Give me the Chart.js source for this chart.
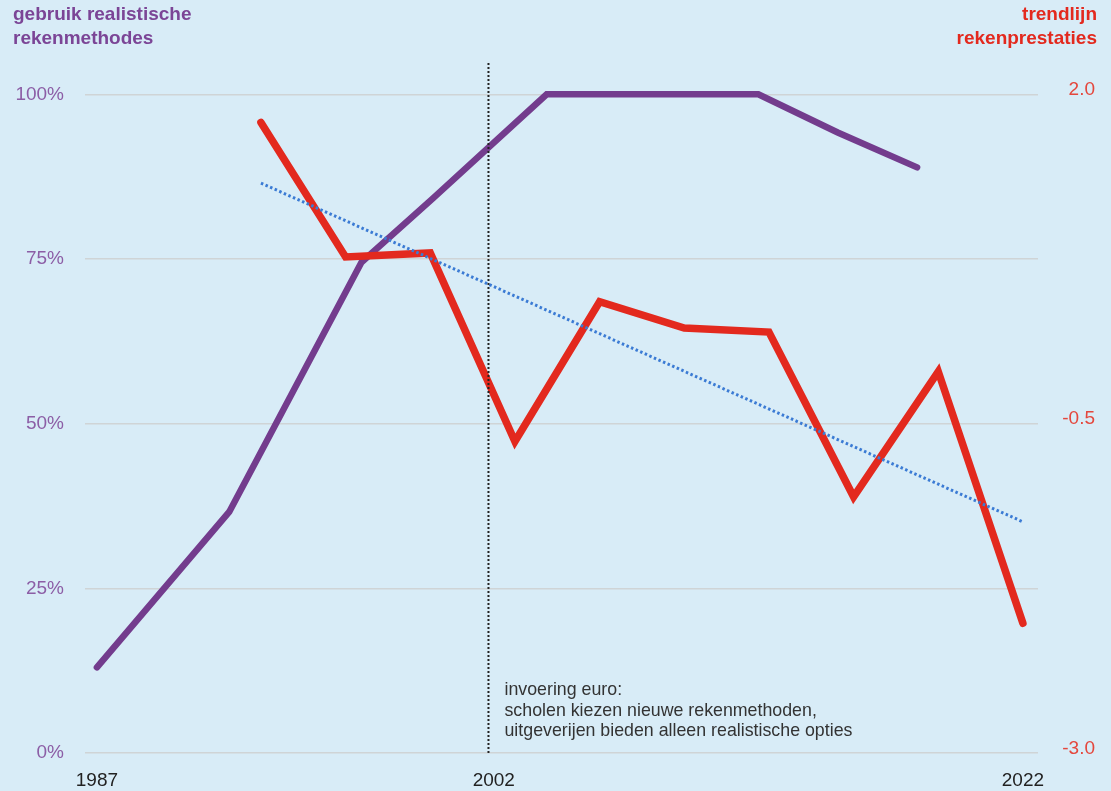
<!DOCTYPE html>
<html>
<head>
<meta charset="utf-8">
<script src="https://cdn.jsdelivr.net/npm/chart.js@4/dist/chart.umd.min.js"></script>
<style>
  html, body { margin: 0; padding: 0; background: #d8ecf7; }
  #wrap { width: 1111px; height: 791px; }
</style>
</head>
<body>
<div id="wrap"><canvas id="rekenChart" width="1111" height="791"></canvas></div>
<script>
// gebruik realistische rekenmethodes (%)
const methodYears = [1987, 1992, 1997, 1999.7, 2004, 2012, 2015, 2018];
const methodShare = [13, 36.6, 74.5, 84.2, 100, 100, 94.2, 88.9];

// rekenprestaties (rechter as)
const scoreYears = [1993.2, 1996.4, 1999.6, 2002.8, 2006, 2009.2, 2012.4, 2015.6, 2018.8, 2022];
const scores = [1.75, 0.73, 0.76, -0.67, 0.39, 0.19, 0.16, -1.09, -0.14, -2.05];

// trendlijn
const trendYears = [1993.2, 2022];
const trendValues = [1.29, -1.28];

const eventYear = 2001.8;
const eventText = ['invoering euro:', 'scholen kiezen nieuwe rekenmethoden,', 'uitgeverijen bieden alleen realistische opties'];

const yearTicks = [1987, 2002, 2022];
const shareTicks = [0, 25, 50, 75, 100];
const scoreTicks = [-3.0, -0.5, 2.0];

const FONT = '"Liberation Sans", Arial, Helvetica, sans-serif';
const PURPLE = '#733c8d';
const RED = '#e3291e';

const toPoints = (xs, ys) => xs.map((x, i) => ({x, y: ys[i]}));

const textPlugin = {
    id: 'texts',
    afterDraw: (chart) => {
        const ctx = chart.ctx;
        ctx.save();
        ctx.textBaseline = 'alphabetic';
        ctx.font = 'bold 19px ' + FONT;
        ctx.fillStyle = '#7b4596';
        ctx.textAlign = 'left';
        ctx.fillText('gebruik realistische', 13, 20);
        ctx.fillText('rekenmethodes', 13, 44);
        ctx.fillStyle = RED;
        ctx.textAlign = 'right';
        ctx.fillText('trendlijn', 1097, 20);
        ctx.fillText('rekenprestaties', 1097, 44);

        const x = chart.scales.x.getPixelForValue(eventYear) + 16;
        const bottom = chart.chartArea.bottom;
        ctx.font = '17.8px ' + FONT;
        ctx.fillStyle = '#333333';
        ctx.textAlign = 'left';
        eventText.forEach((line, i) => {
            ctx.fillText(line, x, bottom - 58 + i * 20.5);
        });
        ctx.restore();
    }
};

const data = {
    datasets: [
        {
            label: 'invoering euro',
            data: [{x: eventYear, y: 0}, {x: eventYear, y: 104.9}],
            yAxisID: 'share',
            borderColor: '#222222',
            borderWidth: 2,
            borderDash: [2, 2],
            pointRadius: 0,
            order: 0
        },
        {
            label: 'trendlijn',
            data: toPoints(trendYears, trendValues),
            yAxisID: 'score',
            borderColor: '#3b7bd4',
            borderWidth: 3,
            borderDash: [2.5, 2.5],
            pointRadius: 0,
            order: 1
        },
        {
            label: 'rekenprestaties',
            data: toPoints(scoreYears, scores),
            yAxisID: 'score',
            borderColor: RED,
            borderWidth: 7.5,
            borderCapStyle: 'round',
            borderJoinStyle: 'miter',
            pointRadius: 0,
            order: 2
        },
        {
            label: 'realistische rekenmethodes',
            data: toPoints(methodYears, methodShare),
            yAxisID: 'share',
            borderColor: PURPLE,
            borderWidth: 6.5,
            borderCapStyle: 'round',
            borderJoinStyle: 'miter',
            pointRadius: 0,
            order: 3
        }
    ]
};

const config = {
    type: 'line',
    data,
    options: {
        responsive: false,
        animation: false,
        layout: {padding: {top: 62, right: 16, bottom: 0, left: 0}},
        plugins: {legend: {display: false}, tooltip: {enabled: false}},
        scales: {
            x: {
                type: 'linear',
                min: 1986.55,
                max: 2022.57,
                afterBuildTicks: (scale) => { scale.ticks = yearTicks.map((v) => ({value: v})); },
                afterFit: (scale) => { scale.height = 38; },
                grid: {display: false},
                border: {display: false},
                ticks: {
                    padding: 8,
                    autoSkip: false,
                    maxRotation: 0,
                    color: '#222222',
                    font: {family: FONT, size: 19},
                    callback: (v) => String(v)
                }
            },
            share: {
                type: 'linear',
                position: 'left',
                min: 0,
                max: 104.9,
                afterBuildTicks: (scale) => { scale.ticks = shareTicks.map((v) => ({value: v})); },
                afterFit: (scale) => { scale.width = 85; },
                grid: {color: '#cfd4d6', lineWidth: 1.5, drawTicks: false},
                border: {display: false},
                ticks: {
                    padding: 21,
                    color: '#8c5ea6',
                    font: {family: FONT, size: 19},
                    callback: (v) => v + '%'
                }
            },
            score: {
                type: 'linear',
                position: 'right',
                min: -3.034,
                max: 2.209,
                afterBuildTicks: (scale) => { scale.ticks = scoreTicks.map((v) => ({value: v})); },
                afterFit: (scale) => { scale.width = 57; },
                grid: {display: false, drawTicks: false},
                border: {display: false},
                ticks: {
                    crossAlign: 'far',
                    color: '#e4473d',
                    font: {family: FONT, size: 19},
                    callback: (v) => v.toFixed(1)
                }
            }
        }
    },
    plugins: [textPlugin]
};

const rekenChart = new Chart(document.getElementById('rekenChart'), config);
</script>
</body>
</html>
